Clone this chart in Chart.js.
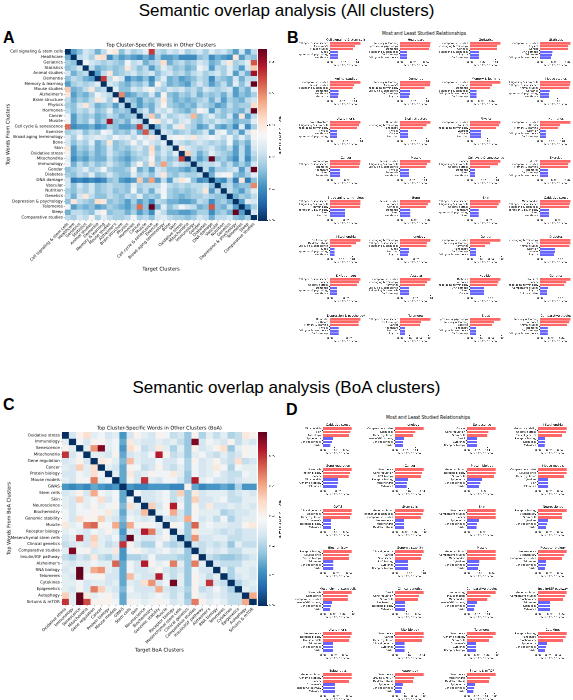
<!DOCTYPE html>
<html>
<head>
<meta charset="utf-8">
<title>Semantic overlap analysis</title>
<script src="https://cdn.jsdelivr.net/npm/chart.js@4.4.1/dist/chart.umd.min.js"></script>
<style>
  html, body { margin: 0; padding: 0; background: #fff; }
  body { position: relative; width: 573px; height: 700px; overflow: hidden; color: #000; }
  canvas { position: absolute; }
  .txt { position: absolute; white-space: nowrap; line-height: 1; }
  .main-title { font: 17px 'Liberation Sans', Arial, sans-serif; left: 0; width: 573px; text-align: center; }
  .panel { font: bold 16px 'Liberation Sans', Arial, sans-serif; }
  .grid-title { font: 9px 'DejaVu Sans', sans-serif; width: 300px; text-align: center; transform: scale(0.5); transform-origin: 50% 0; }
</style>
</head>
<body>
<div class="txt main-title" style="top:1px">Semantic overlap analysis (All clusters)</div>
<div class="txt panel" style="left:3px;top:29px">A</div>
<div class="txt panel" style="left:287px;top:29px">B</div>
<div class="txt grid-title" style="left:274px;top:31px">Most and Least Studied Relationships</div>
<div class="txt main-title" style="top:378px">Semantic overlap analysis (BoA clusters)</div>
<div class="txt panel" style="left:3px;top:396px">C</div>
<div class="txt panel" style="left:286px;top:401px">D</div>
<div class="txt grid-title" style="left:278px;top:415px">Most and Least Studied Relationships</div>

<script>
// ---- All clusters (panels A/B) ----
const clustersA = ['Cell signaling & stem cells', 'Healthcare', 'Geriatrics', 'Statistics', 'Animal studies',
  'Dementia', 'Memory & learning', 'Mouse studies', "Alzheimer's", 'Brain structure', 'Physics', 'Hormones',
  'Cancer', 'Muscle', 'Cell cycle & senescence', 'Exercise', 'Broad aging terminology', 'Bone', 'Skin',
  'Oxidative stress', 'Mitochondria', 'Immunology', 'Gender', 'Diabetes', 'DNA damage', 'Vascular',
  'Nutrition', 'Genetics', 'Depression & psychology', 'Telomeres', 'Sleep', 'Comparative studies'];

// mean TF-IDF score x 1000, row = source cluster, column = target cluster
const heatA = [
  [0,12,16,22,20,14,20,28,30,16,22,18,20,24,46,20,18,22,20,24,18,20,22,18,24,20,22,18,12,22,12,20],
  [14,0,20,22,18,30,32,10,16,12,14,12,10,14,10,18,12,12,14,10,10,10,16,18,10,14,12,10,30,12,18,16],
  [18,16,0,26,22,20,18,20,18,16,26,20,22,14,18,20,32,14,18,20,16,18,22,20,14,16,22,30,18,20,24,44],
  [16,18,22,0,20,14,16,18,16,18,30,20,16,20,12,18,24,20,16,18,14,16,26,22,12,20,18,24,18,12,22,34],
  [22,14,18,20,0,12,20,30,16,18,20,22,18,20,22,16,20,22,18,20,16,20,22,18,20,22,18,24,12,20,14,50],
  [16,20,18,14,12,0,46,20,28,22,10,14,12,16,10,18,24,14,16,12,14,16,20,18,10,18,16,14,22,14,20,20],
  [12,18,20,18,20,24,0,22,20,16,14,18,16,20,12,28,20,14,16,14,12,18,22,18,12,16,20,14,24,16,22,56],
  [34,14,16,20,30,18,20,0,24,16,16,22,20,24,28,20,18,22,20,22,18,20,16,22,20,18,20,22,12,18,14,24],
  [30,12,16,14,18,26,22,20,0,40,12,14,18,16,22,14,28,16,14,18,16,20,14,18,16,18,14,20,12,16,14,18],
  [20,14,18,16,20,30,24,18,28,0,18,16,12,18,16,20,30,18,14,16,14,16,18,20,14,20,12,18,16,14,20,22],
  [18,16,22,30,20,14,16,18,12,20,0,18,12,16,14,20,28,18,16,14,16,14,20,18,16,12,14,20,16,18,18,32],
  [20,16,20,18,22,16,18,24,16,18,16,0,18,22,14,22,20,24,18,16,14,18,28,24,12,20,16,18,16,14,20,54],
  [26,12,18,16,18,14,16,20,18,14,16,18,0,20,34,16,24,18,20,22,20,36,16,20,24,18,16,22,12,30,12,20],
  [28,12,18,16,22,14,18,50,16,18,14,22,20,0,26,30,20,24,18,22,24,18,16,20,18,22,20,18,14,16,16,24],
  [42,10,12,12,14,10,12,18,16,12,12,14,46,18,0,14,20,16,24,30,20,18,12,14,22,14,12,16,10,24,10,18],
  [18,20,22,16,20,18,26,24,16,18,16,22,14,44,18,0,22,20,16,18,20,16,18,22,12,24,26,16,20,12,22,28],
  [24,18,26,20,22,24,22,20,26,22,24,20,26,22,30,22,0,24,26,28,24,30,22,24,26,24,20,26,18,24,18,26],
  [22,16,20,18,24,14,18,30,16,18,20,28,20,26,22,20,24,0,22,20,18,20,22,20,18,20,18,26,14,18,14,24],
  [30,12,18,16,20,14,16,22,16,18,16,20,22,18,32,16,22,20,0,30,22,20,18,20,22,18,16,20,12,20,12,22],
  [28,12,16,14,18,14,16,22,18,16,14,18,20,18,30,18,22,18,24,0,34,20,14,18,24,20,18,16,12,20,12,20],
  [24,10,14,12,16,14,14,20,16,14,12,16,18,20,28,16,20,16,18,46,0,18,12,16,54,16,18,14,10,20,10,18],
  [26,14,20,16,20,16,18,22,18,16,14,20,28,18,30,18,38,18,22,20,18,0,18,20,20,22,16,20,14,18,14,22],
  [16,18,20,24,18,20,26,18,16,16,18,28,14,18,12,22,20,16,16,14,12,16,0,20,12,18,18,20,22,12,20,58],
  [18,16,20,18,24,16,18,22,18,16,16,24,18,20,16,22,30,18,16,20,18,18,20,0,14,24,26,28,16,14,18,24],
  [22,8,10,8,10,8,10,16,18,12,10,12,34,14,38,12,20,12,22,30,26,16,10,12,0,12,10,18,8,30,8,16],
  [22,16,22,18,22,16,18,20,18,18,16,24,18,20,20,20,26,20,18,20,18,20,20,22,16,0,18,20,14,16,16,40],
  [18,16,20,18,22,16,18,20,16,18,16,26,16,20,14,22,26,18,16,18,16,18,20,30,12,20,0,20,16,12,18,24],
  [20,14,22,30,20,16,16,20,18,16,20,18,24,16,18,16,26,18,16,14,16,18,18,20,18,16,16,0,14,18,16,20],
  [16,30,20,18,16,32,30,16,18,16,12,18,12,16,10,20,18,14,14,12,12,14,20,18,10,16,18,14,0,12,24,22],
  [26,12,16,14,16,12,14,18,16,14,12,16,42,16,64,14,24,16,20,26,22,20,14,16,44,16,14,20,12,0,12,18],
  [14,20,20,18,16,24,28,16,18,18,14,18,12,16,10,24,20,14,14,12,12,14,18,18,10,16,18,14,58,12,0,22],
  [20,18,22,20,28,18,24,20,18,18,20,26,18,20,16,22,24,20,18,18,16,18,22,20,14,20,20,22,16,14,18,0]
];
const vmaxA = 0.054;

// three most and three least studied target clusters per source cluster
const relLabelsA = [
  ['Cell cycle & senescence', "Alzheimer's", 'Mouse studies', 'Sleep', 'Depression & psychology', 'Healthcare'],
  ['Memory & learning', 'Depression & psychology', 'Dementia', 'Cell signaling & stem cells', 'DNA damage', 'Cell cycle & senescence'],
  ['Comparative studies', 'Broad aging terminology', 'Genetics', 'Cell signaling & stem cells', 'Physics', 'DNA damage'],
  ['Comparative studies', 'Physics', 'Gender', 'DNA damage', 'Telomeres', 'Cell cycle & senescence'],
  ['Comparative studies', 'Mouse studies', 'Cell signaling & stem cells', 'Dementia', 'Healthcare', 'Geriatrics'],
  ['Memory & learning', "Alzheimer's", 'Broad aging terminology', 'Cell cycle & senescence', 'DNA damage', 'Physics'],
  ['Comparative studies', 'Exercise', 'Dementia', 'Cell signaling & stem cells', 'Cell cycle & senescence', 'DNA damage'],
  ['Cell signaling & stem cells', 'Cell cycle & senescence', 'Animal studies', 'Geriatrics', 'Depression & psychology', 'Healthcare'],
  ['Brain structure', 'Cell signaling & stem cells', 'Broad aging terminology', 'Physics', 'Healthcare', 'Depression & psychology'],
  ['Dementia', 'Broad aging terminology', "Alzheimer's", 'Physics', 'Cancer', 'Nutrition'],
  ['Comparative studies', 'Statistics', 'Broad aging terminology', 'Vascular', 'Cancer', 'Nutrition'],
  ['Comparative studies', 'Gender', 'Memory & learning', 'Nutrition', 'Cell cycle & senescence', 'DNA damage'],
  ['Immunology', 'Cell cycle & senescence', 'Telomeres', 'Healthcare', 'Sleep', 'Dementia'],
  ['Mouse studies', 'Cell signaling & stem cells', 'Cell cycle & senescence', 'Physics', 'Dementia', 'Healthcare'],
  ['Cancer', 'Cell signaling & stem cells', 'Oxidative stress', 'Dementia', 'Sleep', 'Healthcare'],
  ['Muscle', 'Comparative studies', 'Memory & learning', 'Telomeres', 'DNA damage', 'Cell cycle & senescence'],
  ['Cell cycle & senescence', 'Cell signaling & stem cells', 'Immunology', 'Depression & psychology', 'Sleep', 'Nutrition'],
  ['Mouse studies', 'Hormones', 'Genetics', 'Dementia', 'Sleep', 'Healthcare'],
  ['Cell cycle & senescence', 'Cell signaling & stem cells', 'Oxidative stress', 'Healthcare', 'Depression & psychology', 'Sleep'],
  ['Mitochondria', 'Cell cycle & senescence', 'Cell signaling & stem cells', 'Depression & psychology', 'Sleep', 'Healthcare'],
  ['DNA damage', 'Oxidative stress', 'Cell cycle & senescence', 'Sleep', 'Depression & psychology', 'Healthcare'],
  ['Broad aging terminology', 'Cell cycle & senescence', 'Cell signaling & stem cells', 'Sleep', 'Nutrition', 'Physics'],
  ['Comparative studies', 'Memory & learning', 'Hormones', "Alzheimer's", 'DNA damage', 'Cell cycle & senescence'],
  ['Broad aging terminology', 'Genetics', 'Animal studies', 'Nutrition', 'Vascular', 'Physics'],
  ['Cell cycle & senescence', 'Cancer', 'Oxidative stress', 'Dementia', 'Depression & psychology', 'Healthcare'],
  ['Comparative studies', 'Broad aging terminology', 'Hormones', 'Cell cycle & senescence', 'Cell signaling & stem cells', 'DNA damage'],
  ['Diabetes', 'Hormones', 'Broad aging terminology', 'DNA damage', 'Sleep', 'Cancer'],
  ['Statistics', 'Cancer', 'Broad aging terminology', 'Comparative studies', 'Physics', 'Animal studies'],
  ['Dementia', 'Healthcare', 'Memory & learning', 'Physics', 'Cell cycle & senescence', 'DNA damage'],
  ['Cell cycle & senescence', 'DNA damage', 'Cancer', 'Healthcare', 'Nutrition', 'Physics'],
  ['Depression & psychology', 'Memory & learning', 'Exercise', "Alzheimer's", 'Cell cycle & senescence', 'DNA damage'],
  ['Memory & learning', 'Hormones', 'Animal studies', 'Telomeres', 'DNA damage', 'Cell cycle & senescence']
];
const relScoresA = [
  [46,38,35,12,12,12], [47,46,45,11,11,11], [48,43,42,14,14,14], [44,41,40,18,17,16],
  [50,40,37,14,14,13], [46,45,37,15,15,14], [56,40,37,12,12,12], [35,34,33,11,10,10],
  [40,38,35,9,9,9],    [46,40,35,12,12,12], [35,33,30,13,13,13], [54,36,32,10,10,10],
  [36,35,34,12,12,12], [50,44,42,15,15,15], [46,42,30,8,8,8],    [44,41,40,12,12,12],
  [38,38,37,19,19,19], [44,40,38,15,15,15], [32,30,28,9,9,9],    [34,33,32,10,10,10],
  [54,46,38,8,8,8],    [38,34,33,11,11,10], [58,38,28,12,11,11], [30,30,29,15,15,14],
  [38,36,34,9,9,9],    [40,35,33,12,12,12], [30,28,27,14,14,14], [30,26,24,8,7,7],
  [32,30,30,9,9,9],    [64,44,42,10,10,10], [58,45,42,12,11,11], [56,54,50,14,14,14]
];

// ---- BoA clusters (panels C/D) ----
const clustersC = ['Oxidative stress', 'Immunology', 'Senescence', 'Mitochondria', 'Gene regulation', 'Cancer',
  'Protein biology', 'Mouse models', 'GWAS', 'Stem cells', 'Skin', 'Neuroscience', 'Biochemistry',
  'Genomic stability', 'Muscle', 'Receptor biology', 'Mesenchymal stem cells', 'Clinical genetics',
  'Comparative studies', 'Insulin/IGF pathway', "Alzheimer's", 'RNA biology', 'Telomeres', 'Cytokines',
  'Epigenetics', 'Autophagy', 'Sirtuins & mTOR'];

const heatC = [
  [0,24,30,34,26,28,24,26,12,24,30,26,24,30,28,22,24,18,30,20,26,22,26,20,22,32,30],
  [26,0,28,24,30,30,26,28,14,32,26,24,24,26,24,26,22,18,56,24,28,26,24,30,22,26,24],
  [30,26,0,26,42,56,26,28,12,34,30,22,24,32,26,20,26,18,30,24,26,30,34,18,26,30,28],
  [50,24,28,0,26,26,24,30,14,24,26,24,28,52,30,22,24,18,26,28,24,22,26,22,24,30,28],
  [24,26,30,24,0,32,30,26,16,38,26,24,24,28,24,24,28,20,30,24,26,30,24,22,34,22,24],
  [26,24,36,26,34,0,26,24,14,30,28,22,24,30,24,22,26,20,28,24,26,32,28,20,28,26,26],
  [24,24,28,26,34,28,0,26,14,32,24,26,30,28,28,32,26,18,28,24,26,28,24,22,22,28,26],
  [26,24,30,28,44,26,28,0,14,30,24,50,26,24,28,28,24,18,52,26,28,24,24,22,24,26,26],
  [12,10,12,10,14,12,10,12,0,12,10,10,12,12,12,10,10,30,14,10,12,12,14,12,20,12,12],
  [24,26,30,24,40,28,26,28,14,0,28,24,24,26,28,22,36,18,32,24,26,26,26,22,24,26,24],
  [26,24,36,26,28,34,24,28,14,28,0,24,24,26,28,22,26,18,36,24,24,26,28,22,22,26,26],
  [26,24,28,26,30,26,28,30,16,34,26,0,36,24,30,52,28,18,30,24,32,24,24,26,24,26,24],
  [28,24,28,28,30,28,32,26,14,26,24,38,0,26,28,40,24,18,30,26,26,26,20,22,24,24,26],
  [28,24,34,30,30,36,26,24,16,28,26,24,26,0,24,22,24,40,28,24,26,22,28,20,24,26,26],
  [32,26,28,44,46,30,28,40,14,40,28,30,28,26,0,30,28,18,46,26,28,26,26,24,24,30,32],
  [26,28,26,24,28,26,30,26,12,26,24,52,44,24,28,0,26,18,32,26,26,24,22,24,22,24,24],
  [24,26,50,24,36,26,24,28,14,58,26,24,24,26,30,22,0,18,42,24,24,26,26,22,22,24,24],
  [22,24,26,24,34,26,22,24,50,30,24,20,20,28,22,20,22,0,24,22,24,22,24,18,26,22,22],
  [26,56,28,30,24,26,26,32,12,28,30,26,24,26,28,24,26,18,0,22,26,24,26,22,22,26,26],
  [22,20,24,22,32,22,20,24,12,20,20,22,28,22,22,22,20,18,30,0,22,20,18,18,20,22,24],
  [26,24,26,26,28,26,26,46,14,28,24,52,30,26,28,44,26,18,44,26,0,24,22,22,22,26,26],
  [24,26,58,26,40,42,26,24,14,28,24,24,26,30,24,22,24,18,28,24,24,0,26,20,26,26,24],
  [26,24,58,28,28,30,24,24,14,38,26,24,24,52,26,22,26,18,30,26,22,26,0,20,24,26,24],
  [26,26,28,24,26,26,24,26,14,26,24,34,42,24,28,57,26,18,30,26,50,24,22,0,20,24,26],
  [26,24,30,24,44,36,26,24,16,28,24,24,24,40,24,22,24,20,30,22,24,28,24,20,0,26,24],
  [36,26,60,32,26,28,30,26,14,26,26,24,26,28,26,22,26,18,30,26,24,26,24,22,22,0,40],
  [50,26,62,48,30,30,30,28,14,30,28,26,28,30,28,24,26,20,44,30,26,28,26,22,22,40,0]
];
const vmaxC = 0.058;

const relLabelsC = [
  ['Mitochondria', 'Skin', 'Autophagy', 'Epigenetics', 'Clinical genetics', 'GWAS'],
  ['Comparative studies', 'Stem cells', 'Gene regulation', 'Insulin/IGF pathway', 'Clinical genetics', 'GWAS'],
  ['Cancer', 'Gene regulation', 'Stem cells', 'GWAS', 'Cytokines', 'Receptor biology'],
  ['Genomic stability', 'Oxidative stress', 'Clinical genetics', 'Receptor biology', 'Stem cells', 'Cytokines'],
  ['Stem cells', 'Protein biology', 'Cancer', 'Mitochondria', 'Genomic stability', 'Telomeres'],
  ['Senescence', 'Gene regulation', 'RNA biology', 'Receptor biology', 'Mitochondria', 'Cytokines'],
  ['Gene regulation', 'Receptor biology', 'Stem cells', 'Epigenetics', 'Clinical genetics', 'GWAS'],
  ['Comparative studies', 'Neuroscience', 'Gene regulation', 'Cytokines', 'Skin', 'Telomeres'],
  ['Clinical genetics', 'Epigenetics', 'Gene regulation', "Alzheimer's", 'Receptor biology', 'Cytokines'],
  ['Gene regulation', 'Mesenchymal stem cells', 'Comparative studies', 'Neuroscience', 'Mitochondria', 'Oxidative stress'],
  ['Senescence', 'Comparative studies', 'Cancer', 'Epigenetics', 'Clinical genetics', 'GWAS'],
  ['Receptor biology', 'Biochemistry', 'Stem cells', 'Cytokines', 'Clinical genetics', 'GWAS'],
  ['Receptor biology', 'Neuroscience', 'Protein biology', 'Telomeres', 'Clinical genetics', 'GWAS'],
  ['Clinical genetics', 'Cancer', 'Senescence', 'RNA biology', 'Cytokines', 'Receptor biology'],
  ['Gene regulation', 'Comparative studies', 'Mitochondria', 'Cytokines', 'Clinical genetics', 'GWAS'],
  ['Neuroscience', 'Biochemistry', 'Comparative studies', 'Telomeres', 'Clinical genetics', 'GWAS'],
  ['Stem cells', 'Senescence', 'Comparative studies', 'Insulin/IGF pathway', 'Clinical genetics', 'GWAS'],
  ['GWAS', 'Gene regulation', 'Stem cells', 'Biochemistry', 'Receptor biology', 'Cytokines'],
  ['Immunology', 'Mouse models', 'Mitochondria', 'Insulin/IGF pathway', 'Clinical genetics', 'GWAS'],
  ['Gene regulation', 'Comparative studies', 'Biochemistry', 'Telomeres', 'Stem cells', 'Cytokines'],
  ['Neuroscience', 'Receptor biology', 'Mouse models', 'Telomeres', 'Clinical genetics', 'GWAS'],
  ['Senescence', 'Cancer', 'Gene regulation', 'Clinical genetics', 'Cytokines', 'GWAS'],
  ['Senescence', 'Genomic stability', 'Stem cells', "Alzheimer's", 'Cytokines', 'Receptor biology'],
  ['Receptor biology', "Alzheimer's", 'Biochemistry', 'Epigenetics', 'Clinical genetics', 'GWAS'],
  ['Gene regulation', 'Genomic stability', 'Cancer', "Alzheimer's", 'Insulin/IGF pathway', 'Cytokines'],
  ['Senescence', 'Sirtuins & mTOR', 'Oxidative stress', 'Epigenetics', 'Clinical genetics', 'GWAS'],
  ['Senescence', 'Mitochondria', 'Oxidative stress', 'Epigenetics', 'Clinical genetics', 'GWAS']
];
const relScoresC = [
  [50,48,46,18,16,13], [56,40,36,17,16,16], [56,42,40,20,20,20], [52,51,44,13,13,12],
  [38,36,34,20,20,19], [42,40,38,19,18,17], [34,34,32,18,16,14], [52,52,48,18,18,18],
  [50,50,47,14,14,14], [58,56,52,18,18,18], [36,36,36,15,13,12], [52,44,44,18,16,14],
  [44,40,40,16,16,16], [40,38,36,18,18,18], [46,46,46,20,19,18], [52,48,44,15,14,13],
  [58,50,50,18,16,14], [50,42,40,18,18,18], [56,46,40,20,16,14], [48,46,42,20,20,20],
  [52,50,48,18,18,18], [42,42,40,14,14,14], [58,52,44,18,18,18], [57,55,50,18,16,14],
  [44,44,40,18,18,18], [60,40,38,16,14,12], [62,50,48,18,16,14]
];

const RDBU_R = ['#053061', '#2166ac', '#4393c3', '#92c5de', '#d1e5f0', '#f7f7f7',
  '#fddbc7', '#f4a582', '#d6604d', '#b2182b', '#67001f'];
const RED = '#ff6666';
const BLUE = '#6666ff';

Chart.defaults.font.family = "'DejaVu Sans', sans-serif";
Chart.defaults.color = '#000';
Chart.defaults.animation = false;
Chart.defaults.events = [];
Chart.defaults.plugins.legend.display = false;
Chart.defaults.plugins.tooltip.enabled = false;

function hexRgb(h) {
  const n = parseInt(h.slice(1), 16);
  return [(n >> 16) & 255, (n >> 8) & 255, n & 255];
}

function cmap(t) {
  t = Math.min(1, Math.max(0, t));
  const x = t * 10;
  const i = Math.min(9, Math.floor(x));
  const f = x - i;
  const a = hexRgb(RDBU_R[i]), b = hexRgb(RDBU_R[i + 1]);
  return `rgb(${a.map((v, k) => Math.round(v + (b[k] - v) * f)).join(',')})`;
}

// axes title centred over the plot area, like matplotlib's ax.set_title
const axTitle = {
  id: 'axTitle',
  afterDraw(chart, args, opts) {
    if (!opts || !opts.text) return;
    const { ctx, chartArea } = chart;
    ctx.save();
    ctx.font = `${opts.size}px 'DejaVu Sans', sans-serif`;
    ctx.fillStyle = '#000';
    ctx.textAlign = 'center';
    ctx.textBaseline = 'bottom';
    ctx.fillText(opts.text, (chartArea.left + chartArea.right) / 2, chartArea.top - opts.gap);
    ctx.restore();
  }
};

const tickMarks = { display: true, drawOnChartArea: false, tickLength: 1.2, lineWidth: 0.3, color: '#000' };

const OverlapFigure = {
  init() {
    this.renderHeatmap(clustersA, heatA, vmaxA, { x: 65, y: 49, w: 192, h: 171 }, {
      main: 'Top Cluster-Specific Words in Other Clusters', x: 'Target Clusters', y: 'Top Words From Clusters',
      yWidth: 60, xHeight: 52
    });
    this.renderColorbar(vmaxA, { x: 258, y: 49, w: 9, h: 171 });
    this.renderGrid(clustersA, relLabelsA, relScoresA, [330, 400, 470, 540], 42, 39.4, 32, 17, 31);

    this.renderHeatmap(clustersC, heatC, vmaxC, { x: 62, y: 432, w: 195, h: 173 }, {
      main: 'Top Cluster-Specific Words in Other Clusters (BoA)', x: 'Target BoA Clusters', y: 'Top Words From BoA Clusters',
      yWidth: 56, xHeight: 48
    });
    this.renderColorbar(vmaxC, { x: 258, y: 432, w: 9, h: 173 });
    this.renderGrid(clustersC, relLabelsC, relScoresC, [323, 395, 467, 538], 427, 41, 30, 20, 32);
  },

  makeCanvas(w, h) {
    const c = document.createElement('canvas');
    c.width = Math.max(10, Math.round(w));
    c.height = Math.max(10, Math.round(h));
    document.body.appendChild(c);
    return c;
  },

  // build the chart, then resize/shift its canvas so the plot area lands on box
  place(makeConfig, box, guessW, guessH) {
    let canvas = this.makeCanvas(guessW, guessH);
    let chart = new Chart(canvas, makeConfig());
    let a = chart.chartArea;
    const w = canvas.width / (chart.currentDevicePixelRatio || 1) + box.w - (a.right - a.left);
    const h = canvas.height / (chart.currentDevicePixelRatio || 1) + box.h - (a.bottom - a.top);
    chart.destroy();
    canvas.remove();
    canvas = this.makeCanvas(w, h);
    chart = new Chart(canvas, makeConfig());
    a = chart.chartArea;
    canvas.style.left = (box.x - a.left) + 'px';
    canvas.style.top = (box.y - a.top) + 'px';
    return chart;
  },

  renderHeatmap(names, grid, vmax, box, t) {
    const config = () => ({
      type: 'bar',
      data: {
        labels: names,
        datasets: grid.map((row, r) => ({
          data: row.map(() => [r, r + 1]),
          backgroundColor: row.map(v => cmap(v / 1000 / vmax)),
          grouped: false,
          barPercentage: 1,
          categoryPercentage: 1,
          borderWidth: 0
        }))
      },
      options: {
        responsive: false,
        maintainAspectRatio: false,
        devicePixelRatio: 2,
        layout: { padding: { top: 8, left: 0, right: 0, bottom: 0 } },
        plugins: { axTitle: { text: t.main, size: 5, gap: 1.2 } },
        scales: {
          x: {
            grid: { ...tickMarks, offset: false },
            border: { display: false },
            ticks: { autoSkip: false, minRotation: 45, maxRotation: 45, font: { size: 4 }, padding: 0.5 },
            title: { display: true, text: t.x, font: { size: 5 }, padding: 0 },
            afterFit: s => { s.height = t.xHeight; }
          },
          y: {
            type: 'linear',
            min: 0,
            max: names.length,
            reverse: true,
            grid: tickMarks,
            border: { display: false },
            afterBuildTicks: s => { s.ticks = names.map((_, i) => ({ value: i + 0.5 })); },
            ticks: { autoSkip: false, font: { size: 4 }, padding: 1, callback: v => names[Math.floor(v)] },
            title: { display: true, text: t.y, font: { size: 5 }, padding: 0 },
            afterFit: s => { s.width = t.yWidth; }
          }
        }
      },
      plugins: [axTitle]
    });
    this.place(config, box, box.w + 70, box.h + 70);
  },

  renderColorbar(vmax, box) {
    const config = () => ({
      type: 'bar',
      data: {
        labels: [''],
        datasets: [{
          data: [[0, vmax]],
          barPercentage: 1,
          categoryPercentage: 1,
          backgroundColor: ctx => {
            const area = ctx.chart.chartArea;
            if (!area) return RDBU_R[5];
            const g = ctx.chart.ctx.createLinearGradient(0, area.bottom, 0, area.top);
            RDBU_R.forEach((c, i) => g.addColorStop(i / 10, c));
            return g;
          }
        }]
      },
      options: {
        responsive: false,
        maintainAspectRatio: false,
        devicePixelRatio: 3,
        layout: { padding: { top: 2, bottom: 2, right: 1 } },
        scales: {
          x: { display: false },
          y: {
            position: 'right',
            min: 0,
            max: vmax,
            grid: tickMarks,
            border: { display: false },
            ticks: { stepSize: 0.01, includeBounds: false, font: { size: 2.6 }, padding: 0.8, callback: v => v.toFixed(2) },
            title: { display: true, text: 'Mean TF-IDF Score of Top Words', font: { size: 2.4 }, padding: 0.5 },
            afterFit: s => { s.width = 15; }
          }
        }
      }
    });
    this.place(config, box, 30, box.h + 6);
  },

  renderGrid(names, labelSets, scoreSets, colLefts, top0, rowStep, plotW, plotH, yWidth) {
    names.forEach((name, i) => {
      const box = {
        x: colLefts[i % 4],
        y: top0 + Math.floor(i / 4) * rowStep,
        w: plotW,
        h: plotH
      };
      this.place(() => this.relConfig(name, labelSets[i], scoreSets[i], yWidth), box, plotW + yWidth + 6, plotH + 16);
    });
  },

  relConfig(title, labels, scores, yWidth) {
    const vals = scores.map(v => v / 1000);
    const font = { size: 2.5 };
    return {
      type: 'bar',
      data: {
        labels: labels.slice(),
        datasets: [{
          data: vals,
          backgroundColor: vals.map((_, i) => (i < 3 ? RED : BLUE)),
          barPercentage: 0.8,
          categoryPercentage: 1
        }]
      },
      options: {
        indexAxis: 'y',
        responsive: false,
        maintainAspectRatio: false,
        devicePixelRatio: 3,
        layout: { padding: { top: 4, right: 3, left: 0, bottom: 0 } },
        plugins: { axTitle: { text: title, size: 3, gap: 0.7 } },
        scales: {
          y: {
            grid: tickMarks,
            border: { color: '#000', width: 0.4 },
            ticks: { autoSkip: false, font, padding: 0.6 },
            afterFit: s => { s.width = yWidth; }
          },
          x: {
            min: 0,
            max: Math.max(...vals) * 1.05,
            grid: tickMarks,
            border: { color: '#000', width: 0.4 },
            ticks: { stepSize: 0.02, includeBounds: false, maxRotation: 0, font, padding: 0.5, callback: v => v.toFixed(2) },
            title: { display: true, text: 'Mean TF-IDF Score', font, padding: 0 },
            afterFit: s => { s.height = 8; }
          }
        }
      },
      plugins: [axTitle]
    };
  }
};

OverlapFigure.init();
</script>
</body>
</html>
